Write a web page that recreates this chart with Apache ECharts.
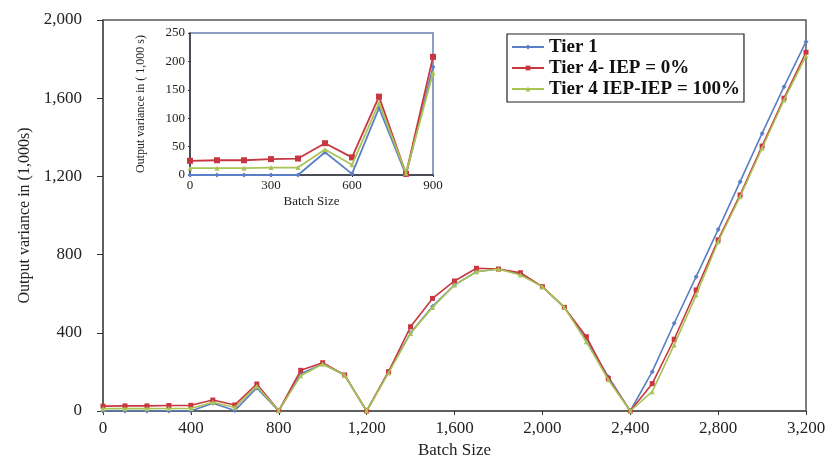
<!DOCTYPE html>
<html>
<head>
<meta charset="utf-8">
<script src="https://cdn.jsdelivr.net/npm/echarts@6/dist/echarts.min.js"></script>
<style>html,body{margin:0;padding:0;background:#fff}#c{width:831px;height:461px}</style>
</head>
<body>
<div id="c"></div>
<script>
const batchSizes = [0,100,200,300,400,500,600,700,800,900,1000,1100,1200,1300,1400,1500,1600,1700,1800,1900,2000,2100,2200,2300,2400,2500,2600,2700,2800,2900,3000,3100,3200];
const tier1 = [0,0,0,0,0,40,2,118,0,190,240,184,0,201,400,535,645,712,726,700,636,530,365,175,0,201,449,687,928,1173,1420,1659,1889];
const tier4IEP0 = [25,26,26,28,29,56,31,138,2,208,247,184,0,201,431,576,665,730,726,707,636,530,380,167,0,140,367,619,875,1105,1355,1600,1835];
const tier4IEP100 = [12,12,12,13,13,45,18,127,3,180,240,184,0,195,397,530,644,712,726,696,636,530,354,160,0,99,338,593,866,1096,1344,1591,1816];
const seriesNames = ['Tier 1','Tier 4- IEP = 0%','Tier 4 IEP-IEP = 100%'];
const insetMaxX = 900;

const colors = ['#5b7fc4','#c8373f','#a8c454'];
const symbols = ['diamond','rect','triangle'];
const allData = [tier1, tier4IEP0, tier4IEP100];
const fmt = v => Number(v).toLocaleString('en-US');
const serif = 'Liberation Serif';

function pairs(arr, maxX) {
  const out = [];
  for (let i = 0; i < batchSizes.length; i++) {
    if (maxX === undefined || batchSizes[i] <= maxX) out.push([batchSizes[i], arr[i]]);
  }
  return out;
}

const series = [];
allData.forEach((arr, i) => {
  series.push({
    name: seriesNames[i], type: 'line', xAxisIndex: 0, yAxisIndex: 0,
    data: pairs(arr), symbol: symbols[i], symbolSize: 5,
    lineStyle: {color: colors[i], width: 1.6}, itemStyle: {color: colors[i]},
    emphasis: {disabled: true}, animation: false, z: 2 + i
  });
});
allData.forEach((arr, i) => {
  series.push({
    name: seriesNames[i], type: 'line', xAxisIndex: 1, yAxisIndex: 1,
    data: pairs(arr, insetMaxX), symbol: symbols[i], symbolSize: i === 1 ? 6 : 5,
    lineStyle: {color: colors[i], width: 1.8}, itemStyle: {color: colors[i]},
    emphasis: {disabled: true}, animation: false, z: 10 + i
  });
});

const chart = echarts.init(document.getElementById('c'));
chart.setOption({
  backgroundColor: '#fff',
  animation: false,
  legend: {
    data: seriesNames,
    orient: 'vertical', left: 507, top: 34,
    itemWidth: 32, itemHeight: 6, itemGap: 1,
    padding: [3, 4, 3, 4],
    borderColor: '#222', borderWidth: 1.2,
    textStyle: {fontFamily: serif, fontSize: 19, color: '#111', lineHeight: 20, fontWeight: 'bold'},
    selectedMode: false
  },
  grid: [
    {left: 103, right: 25, top: 20, bottom: 50, outerBoundsMode: 'none', containLabel: false, show: true, borderColor: '#555', borderWidth: 1.5, backgroundColor: 'transparent'},
    {left: 190, right: 398, top: 33, bottom: 286, outerBoundsMode: 'none', containLabel: false, show: true, borderColor: '#6e7fb0', borderWidth: 1.5, backgroundColor: '#fff', z: 5}
  ],
  xAxis: [
    {type: 'value', gridIndex: 0, min: 0, max: 3200, interval: 400,
     name: 'Batch Size', nameLocation: 'middle', nameGap: 31,
     nameTextStyle: {fontFamily: serif, fontSize: 17, color: '#222'},
     axisLine: {show: true, lineStyle: {color: '#555', width: 1.5}},
     axisTick: {show: true, inside: false, length: 4, lineStyle: {color: '#333'}},
     axisLabel: {fontFamily: serif, fontSize: 17, color: '#222', margin: 9, formatter: fmt},
     splitLine: {show: false}},
    {type: 'value', gridIndex: 1, min: 0, max: 900, interval: 300,
     name: 'Batch Size', nameLocation: 'middle', nameGap: 20,
     nameTextStyle: {fontFamily: serif, fontSize: 13, color: '#222'},
     axisLine: {show: true, lineStyle: {color: '#333', width: 1.5}},
     axisTick: {show: true, length: 2, lineStyle: {color: '#333'}},
     axisLabel: {fontFamily: serif, fontSize: 13, color: '#222', margin: 4, formatter: fmt},
     splitLine: {show: false}, z: 6}
  ],
  yAxis: [
    {type: 'value', gridIndex: 0, min: 0, max: 2000, interval: 400,
     name: 'Output variance in (1,000s)', nameLocation: 'middle', nameGap: 69, nameRotate: 90,
     nameTextStyle: {fontFamily: serif, fontSize: 16, color: '#222'},
     axisLine: {show: true, lineStyle: {color: '#555', width: 1.5}},
     axisTick: {show: true, length: 6, lineStyle: {color: '#333'}},
     axisLabel: {fontFamily: serif, fontSize: 17, color: '#222', margin: 21, formatter: fmt},
     splitLine: {show: false}},
    {type: 'value', gridIndex: 1, min: 0, max: 250, interval: 50,
     name: 'Output variance in ( 1,000 s)', nameLocation: 'middle', nameGap: 43, nameRotate: 90,
     nameTextStyle: {fontFamily: serif, fontSize: 12, color: '#222'},
     axisLine: {show: true, lineStyle: {color: '#333', width: 1.5}},
     axisTick: {show: true, length: 2, lineStyle: {color: '#333'}},
     axisLabel: {fontFamily: serif, fontSize: 13, color: '#222', margin: 5, formatter: fmt},
     splitLine: {show: false}, z: 6}
  ],
  series: series
});
</script>
</body>
</html>
